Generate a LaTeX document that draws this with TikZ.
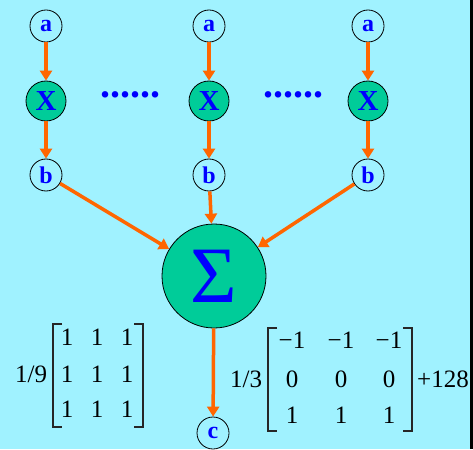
\documentclass[tikz,border=0pt]{standalone}
\usepackage{fontspec}
\setmainfont{Liberation Serif}
\usetikzlibrary{arrows.meta}
\definecolor{bgcyan}{RGB}{160,242,255}
\definecolor{nodegreen}{RGB}{0,204,153}
\definecolor{floworange}{RGB}{255,102,0}
\definecolor{labelblue}{RGB}{0,0,255}

\begin{document}
\begin{tikzpicture}[x=1pt,y=-1pt,>=Latex]
  \tikzset{
    io/.style={circle,draw=black,line width=0.8pt,minimum size=32pt,inner sep=0pt,
      text=labelblue,font=\fontsize{24}{24}\selectfont\bfseries},
    mult/.style={io,fill=nodegreen,minimum size=40pt,font=\fontsize{29}{29}\selectfont\bfseries},
    sum/.style={io,fill=nodegreen,minimum size=104pt,font=\fontsize{80}{80}\selectfont},
    flow/.style={draw=floworange,line width=3.5pt,-{Triangle[length=10pt,width=12pt]}},
    dots/.style={text=labelblue,font=\fontsize{40}{40}\selectfont\bfseries,inner sep=0pt},
    entry/.style={anchor=base,inner sep=0pt,font=\fontsize{25}{25}\selectfont},
    coef/.style={entry,anchor=base west},
    bracket/.style={draw=black!85,line width=1.1pt},
  }
  \fill[bgcyan] (0,0) rectangle (473,449);
  \fill[black] (470,0) rectangle (473,449);
  \useasboundingbox (0,0) rectangle (473,449);

  \node[io] (a1) at (46,26) {a}; \node[io] (a2) at (209,26) {a}; \node[io] (a3) at (368,26) {a};
  \node[mult] (x1) at (46,101) {X}; \node[mult] (x2) at (209,101) {X}; \node[mult] (x3) at (368,101) {X};
  \node[io] (b1) at (46,175) {b}; \node[io] (b2) at (209,175) {b}; \node[io] (b3) at (368,175) {b};
  \node[sum] (s) at (214,276) {Σ};
  \node[io] (c) at (213,433) {c};

  \node[dots] (d1) at (130,95) {......};
  \node[dots] (d2) at (293,95) {......};

  \draw[flow] (a1) -- (x1); \draw[flow] (a2) -- (x2); \draw[flow] (a3) -- (x3);
  \draw[flow] (x1) -- (b1); \draw[flow] (x2) -- (b2); \draw[flow] (x3) -- (b3);
  \draw[flow] (b1) -- (s); \draw[flow] (b2) -- (s); \draw[flow] (b3) -- (s);
  \draw[flow] (s) -- (c);

  % smoothing mask
  \node[coef] (k1) at (15,382) {1/9};
  \foreach \r/\y in {1/345,2/382,3/417}
    \foreach \c/\x in {1/67,2/97,3/127}
      \node[entry] (l\r\c) at (\x,\y) {1};
  \draw[bracket] (62,324) -- (53,324) -- (53,427) -- (62,427);
  \draw[bracket] (134,324) -- (143,324) -- (143,427) -- (134,427);

  % edge mask
  \node[coef] (k2) at (230,387) {1/3};
  \foreach \r/\y/\v in {1/348/−1,2/387/0,3/423/1}
    \foreach \c/\x in {1/292,2/341,3/389}
      \node[entry] (r\r\c) at (\x,\y) {\v};
  \draw[bracket] (277,328) -- (268,328) -- (268,431) -- (277,431);
  \draw[bracket] (403,328) -- (412,328) -- (412,431) -- (403,431);
  \node[coef] (off) at (417,387) {+128};
\end{tikzpicture}
\end{document}
